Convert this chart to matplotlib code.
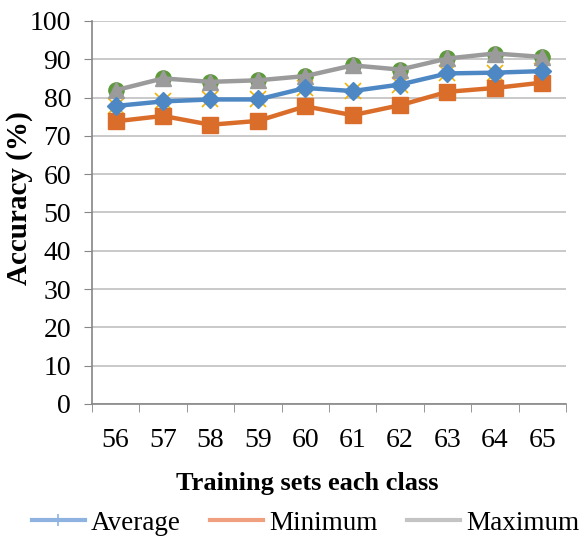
import matplotlib
matplotlib.use("Agg")
import matplotlib.pyplot as plt
from matplotlib.lines import Line2D

# data per training-set size
sets = ["56", "57", "58", "59", "60", "61", "62", "63", "64", "65"]
average = [77.8, 79.0, 79.5, 79.5, 82.5, 81.7, 83.4, 86.3, 86.5, 86.9]
minimum = [73.8, 75.2, 72.9, 73.9, 77.7, 75.4, 78.0, 81.5, 82.5, 83.9]
maximum = [81.9, 85.0, 84.1, 84.5, 85.6, 88.4, 87.3, 90.2, 91.5, 90.6]
yticks = [0, 10, 20, 30, 40, 50, 60, 70, 80, 90, 100]

plt.rcParams["font.family"] = ["Liberation Serif", "DejaVu Serif"]
plt.rcParams["font.size"] = 20

fig = plt.figure(figsize=(5.82, 5.37), dpi=100)
ax = fig.add_axes([0.158, 0.2477, 0.8145, 0.7133])

x = list(range(len(sets)))

blue = "#4e88c4"
orange = "#db6d2a"
grey = "#9b9b9b"
green = "#5e9a3a"
yellow = "#f2b300"

# helper series sit under the visible markers
ax.plot(x, maximum, linestyle="none", marker="o", markersize=11, color=green, zorder=3)
ax.plot(x, average, linestyle="none", marker="x", markersize=11, markeredgewidth=1.2,
        color=yellow, zorder=3)

ax.plot(x, minimum, color=orange, linewidth=3.2, marker="s", markersize=11, zorder=4)
ax.plot(x, average, color=blue, linewidth=3.2, marker="D", markersize=9.5, zorder=5)
ax.plot(x, maximum, color=grey, linewidth=3.2, marker="^", markersize=11, zorder=4)

ax.set_xlim(-0.5, len(sets) - 0.5)
ax.set_ylim(0, 100)
ax.set_yticks(yticks)
ax.set_xticks(x)
ax.set_xticklabels(sets)
ax.set_xticks([i - 0.5 for i in range(len(sets) + 1)], minor=True)
ax.tick_params(axis="x", which="major", length=0, pad=17)
ax.tick_params(axis="x", which="minor", length=6, color="#868686", direction="out")
ax.tick_params(axis="y", length=6, color="#868686", direction="out", pad=9)

ax.grid(axis="y", color="#c0c0c0", linewidth=1.2, zorder=0)
ax.set_axisbelow(True)
for side in ["top", "right"]:
    ax.spines[side].set_visible(False)
for side in ["left", "bottom"]:
    ax.spines[side].set_color("#868686")
    ax.spines[side].set_linewidth(1.2)

ax.set_xlabel("Training sets each class", fontweight="bold", fontsize=19,
              labelpad=14, x=0.4536)
ax.set_ylabel("Accuracy (%)", fontweight="bold", fontsize=21)
ax.yaxis.set_label_coords(-0.124, 0.538)

handles = [
    Line2D([], [], color="#8fb3e0", linewidth=3, marker="|", markersize=9,
           markeredgewidth=1.2),
    Line2D([], [], color="#f0a07e", linewidth=3),
    Line2D([], [], color="#c4c4c4", linewidth=3),
]
fig.legend(handles, ["Average", "Minimum", "Maximum"], loc="center",
           bbox_to_anchor=(0.525, 0.026), ncol=3, frameon=False, fontsize=19.5,
           handlelength=1.95, handletextpad=0.22, columnspacing=1.1)

fig.savefig("out.png", dpi=100)
